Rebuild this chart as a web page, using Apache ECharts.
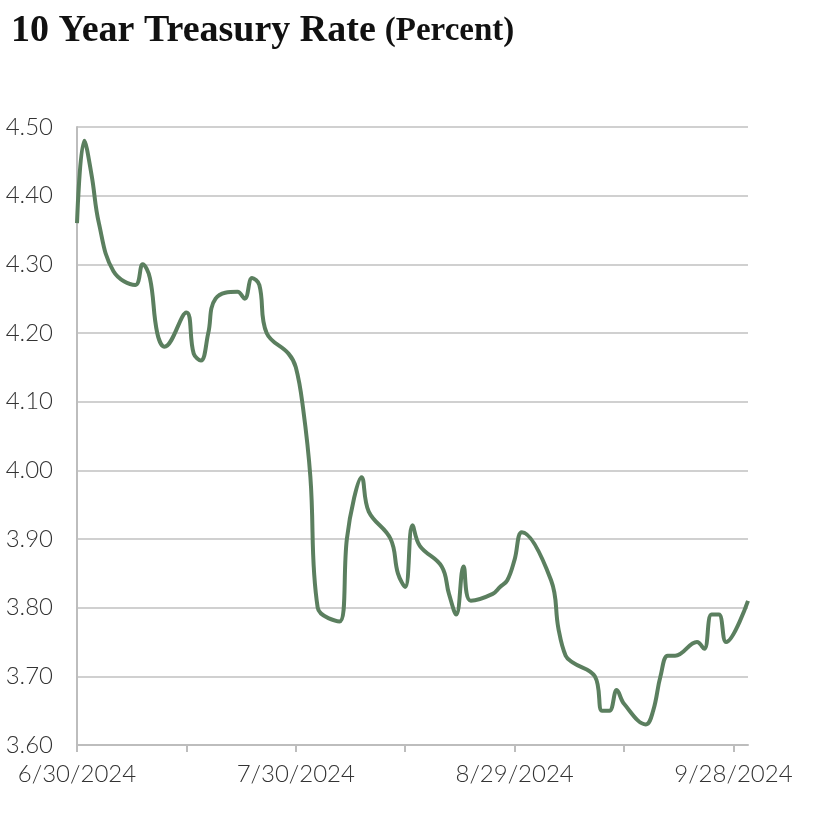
<!DOCTYPE html>
<html><head><meta charset="utf-8">
<script src="https://cdn.jsdelivr.net/npm/echarts@6/dist/echarts.min.js"></script>
<style>html,body{margin:0;padding:0;background:#fff}#c{width:817px;height:813px}</style>
</head><body><div id="c"></div>
<script>
const dates = ["2024-06-30","2024-07-01","2024-07-02","2024-07-03","2024-07-05","2024-07-08","2024-07-09","2024-07-10","2024-07-11","2024-07-12","2024-07-15","2024-07-16","2024-07-17","2024-07-18","2024-07-19","2024-07-22","2024-07-23","2024-07-24","2024-07-25","2024-07-26","2024-07-29","2024-07-30","2024-07-31","2024-08-01","2024-08-02","2024-08-05","2024-08-06","2024-08-07","2024-08-08","2024-08-09","2024-08-12","2024-08-13","2024-08-14","2024-08-15","2024-08-16","2024-08-19","2024-08-20","2024-08-21","2024-08-22","2024-08-23","2024-08-26","2024-08-27","2024-08-28","2024-08-29","2024-08-30","2024-09-03","2024-09-04","2024-09-05","2024-09-06","2024-09-09","2024-09-10","2024-09-11","2024-09-12","2024-09-13","2024-09-16","2024-09-17","2024-09-18","2024-09-19","2024-09-20","2024-09-23","2024-09-24","2024-09-25","2024-09-26","2024-09-27","2024-09-30"];
const rates = [4.36,4.48,4.43,4.36,4.29,4.27,4.30,4.28,4.20,4.18,4.23,4.17,4.16,4.20,4.25,4.26,4.25,4.28,4.27,4.20,4.17,4.15,4.09,3.99,3.80,3.78,3.90,3.96,3.99,3.94,3.90,3.85,3.83,3.92,3.89,3.86,3.82,3.79,3.86,3.81,3.82,3.83,3.84,3.87,3.91,3.84,3.77,3.73,3.72,3.70,3.65,3.65,3.68,3.66,3.63,3.65,3.70,3.73,3.73,3.75,3.74,3.79,3.79,3.75,3.81];
const tickDates = ["2024-06-30","2024-07-15","2024-07-30","2024-08-14","2024-08-29","2024-09-13","2024-09-28"];
const labelDates = ["2024-06-30","2024-07-30","2024-08-29","2024-09-28"];
const xMinDate = "2024-06-30", xMaxDate = "2024-09-30";
const yTicks = [3.60,3.70,3.80,3.90,4.00,4.10,4.20,4.30,4.40,4.50];

const ts = s => { const [y,m,d] = s.split('-').map(Number); return Date.UTC(y,m-1,d); };
const fmt = v => { const d = new Date(v); return (d.getUTCMonth()+1)+'/'+d.getUTCDate()+'/'+d.getUTCFullYear(); };

const chart = echarts.init(document.getElementById('c'));
chart.setOption({
  animation:false,
  title:{
    text:'{a|10 Year Treasury Rate} {b|(Percent)}',
    left:6, top:7,
    textStyle:{rich:{
      a:{fontFamily:'Liberation Serif',fontWeight:'bold',fontSize:38,color:'#111'},
      b:{fontFamily:'Liberation Serif',fontWeight:'bold',fontSize:33,color:'#111',padding:[0,0,0,4]}
    }}
  },
  grid:{left:77,right:69,top:127,bottom:68,containLabel:false},
  xAxis:{
    type:'value', min:ts(xMinDate), max:ts(xMaxDate),
    splitLine:{show:false},
    axisLine:{show:true,lineStyle:{color:'#bdbdbd',width:2}},
    axisTick:{show:true,customValues:tickDates.map(ts),length:7,lineStyle:{color:'#bdbdbd',width:2}},
    axisLabel:{customValues:labelDates.map(ts),formatter:fmt,fontFamily:'Lato',fontWeight:300,fontSize:24,color:'#333',margin:17}
  },
  yAxis:{
    type:'value', min:yTicks[0], max:yTicks[yTicks.length-1], interval:0.1,
    axisLine:{show:true,lineStyle:{color:'#bdbdbd',width:2}},
    axisTick:{show:false},
    splitLine:{lineStyle:{color:'#d0d0d0',width:2}},
    axisLabel:{formatter:v=>v.toFixed(2),fontFamily:'Lato',fontWeight:300,fontSize:24,color:'#333',margin:24}
  },
  series:[{
    type:'line', smooth:0.4, showSymbol:false,
    data:dates.map((d,i)=>[ts(d),rates[i]]),
    lineStyle:{color:'#5b7f5f',width:4}
  }]
});
</script></body></html>
